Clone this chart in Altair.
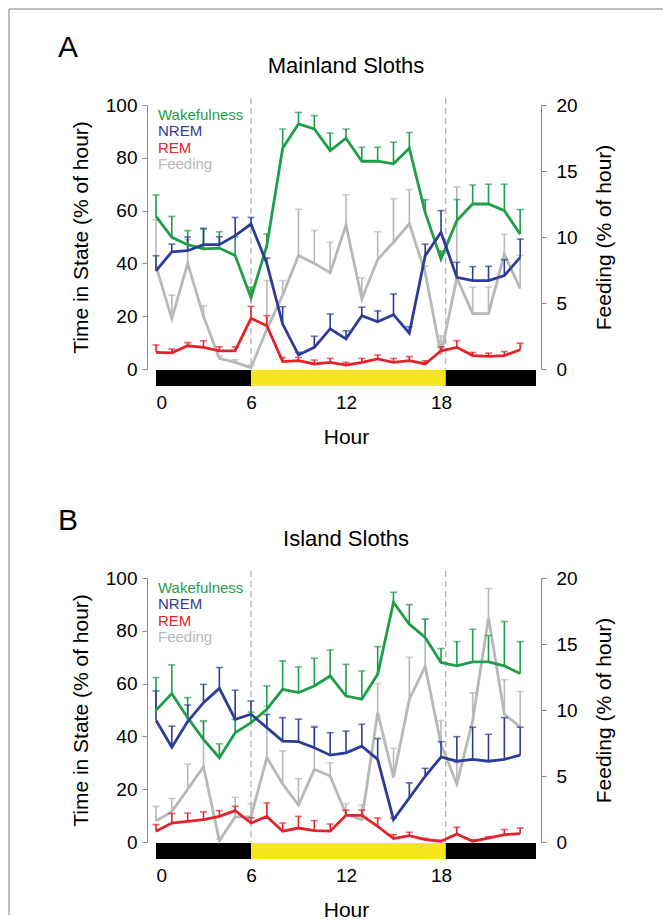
import altair as alt
import pandas as pd

HOURS = list(range(24))

# ---------------- Panel A : Mainland sloths ----------------
A_WAKE = [57.8, 49.9, 47.1, 45.5, 45.8, 43.0, 27.0, 46.7, 83.6, 92.8, 90.9, 82.7,
          87.4, 78.7, 78.7, 77.7, 83.6, 59.3, 41.7, 56.2, 62.5, 62.5, 60.0, 51.1]
A_WAKE_ERR = [8.1, 7.9, 5.3, 7.5, 6.2, 7.0, 4.0, 4.4, 7.3, 4.4, 5.1, 6.7,
              3.5, 5.3, 5.3, 8.2, 6.0, 4.8, 3.0, 8.0, 7.2, 7.5, 10.0, 9.3]
A_NREM = [37.2, 44.4, 44.8, 47.1, 47.1, 50.5, 54.9, 40.0, 17.0, 5.3, 8.2, 15.2,
          11.4, 20.2, 17.9, 20.6, 13.6, 42.9, 51.8, 34.7, 33.5, 33.5, 35.4, 42.3]
A_NREM_ERR = [5.7, 2.9, 5.2, 6.2, 3.0, 6.9, 2.5, 2.0, 6.6, 1.0, 4.2, 5.6,
              3.1, 3.2, 4.1, 7.8, 2.4, 4.4, 8.2, 5.7, 5.3, 5.4, 6.0, 6.9]
A_REM = [6.3, 6.1, 8.8, 8.2, 6.9, 6.9, 19.2, 16.4, 2.8, 3.2, 1.9, 2.5,
         1.5, 2.5, 3.8, 2.5, 3.2, 1.9, 6.9, 8.2, 5.1, 4.8, 5.1, 7.3]
A_REM_ERR = [2.8, 1.5, 1.2, 2.5, 1.5, 1.5, 4.5, 3.8, 1.5, 1.2, 1.5, 1.5,
             1.0, 1.5, 1.5, 1.5, 1.5, 1.2, 1.5, 2.5, 1.2, 1.2, 1.5, 2.5]
A_FEED = [7.8, 3.8, 8.0, 4.0, 0.8, 0.5, 0.1, 3.0, 5.6, 8.6, 8.0, 7.3,
          10.9, 5.3, 8.3, 9.6, 11.0, 7.3, 1.1, 6.9, 4.2, 4.2, 8.7, 6.1]
A_FEED_ERR = [3.5, 1.8, 1.8, 0.8, 0.2, 0.2, 0.2, 3.7, 1.1, 3.5, 2.5, 2.3,
              2.3, 1.6, 2.1, 3.3, 2.6, 0.5, 1.4, 6.9, 2.0, 2.0, 1.5, 2.5]

# ---------------- Panel B : Island sloths ----------------
B_WAKE = [49.9, 56.2, 47.1, 38.9, 31.9, 41.4, 45.2, 50.3, 57.8, 56.6, 59.1, 62.9,
          55.3, 54.1, 63.5, 90.8, 82.5, 77.5, 68.0, 66.7, 68.2, 68.2, 66.7, 63.8]
B_WAKE_ERR = [12.4, 10.9, 7.6, 7.0, 5.3, 5.0, 4.0, 8.8, 10.8, 9.7, 10.5, 9.8,
              12.0, 10.7, 10.5, 3.8, 7.4, 6.9, 5.3, 9.2, 12.4, 10.0, 16.8, 12.1]
B_NREM = [46.1, 35.9, 45.6, 52.8, 58.2, 46.5, 48.4, 43.3, 38.2, 38.0, 35.7, 32.9,
          33.8, 36.3, 31.3, 8.5, 16.7, 24.9, 32.2, 30.6, 31.3, 30.6, 31.3, 32.9]
B_NREM_ERR = [11.1, 8.0, 6.3, 6.9, 7.9, 11.0, 5.0, 5.0, 8.9, 8.5, 7.8, 8.5,
              8.2, 8.3, 7.9, 0.5, 5.7, 3.0, 5.8, 9.3, 12.2, 10.2, 15.8, 10.6]
B_REM = [4.1, 7.2, 7.8, 8.5, 9.7, 11.9, 7.2, 9.7, 4.1, 5.3, 4.3, 4.1,
         10.1, 10.1, 5.9, 1.3, 2.4, 0.9, 0.3, 3.0, 0.3, 1.5, 2.8, 3.2]
B_REM_ERR = [2.5, 3.6, 3.2, 2.9, 2.2, 1.6, 2.0, 5.1, 3.1, 4.4, 3.8, 2.7,
             2.0, 2.0, 3.2, 1.5, 1.3, 0.5, 0.3, 2.6, 0.5, 0.5, 1.9, 2.1]
B_FEED = [1.6, 2.3, 4.0, 5.7, 0.1, 1.9, 1.9, 6.4, 4.4, 2.8, 5.5, 5.0,
          2.1, 1.7, 9.8, 4.9, 10.8, 13.3, 7.4, 4.4, 9.2, 17.0, 9.7, 8.7]
B_FEED_ERR = [1.1, 1.0, 1.9, 3.4, 0.1, 1.5, 1.0, 3.9, 2.5, 2.0, 3.3, 1.0,
              0.8, 1.1, 2.2, 2.2, 3.2, 3.6, 1.8, 1.6, 2.1, 2.2, 2.6, 2.7]

# light / dark bar and dashed transitions
LIGHT_START = [0, 6, 18.3]
LIGHT_END = [6, 18.3, 24]
LIGHT_PHASE = ["dark", "light", "dark"]
TRANSITIONS = [6, 18.3]

LEGEND_LABELS = ["Wakefulness", "NREM", "REM", "Feeding"]
COLORS = ["#1f9e4a", "#2d3c96", "#e3232b", "#b8b8b8"]

FONT = "Liberation Sans"
W, H = 380, 264

x_axis = alt.Axis(values=[0, 6, 12, 18], domain=False, ticks=False, grid=False,
                  labelPadding=24, labelFontSize=19, labelFont=FONT, labelColor="black",
                  title="Hour", titleFontSize=21, titleFont=FONT, titleFontWeight="normal",
                  titlePadding=14, titleColor="black")
x_scale = alt.Scale(domain=[0, 24], nice=False, zero=False)

left_axis = alt.Axis(orient="left", values=[0, 20, 40, 60, 80, 100], offset=9, grid=False,
                     domainColor="#8a8a8a", tickColor="#8a8a8a", tickSize=5,
                     labelFontSize=19, labelFont=FONT, labelColor="black", labelPadding=5,
                     title="Time in State (% of hour)", titleFontSize=21, titleFont=FONT,
                     titleFontWeight="normal", titleColor="black", titlePadding=14)
right_axis = alt.Axis(orient="right", values=[0, 5, 10, 15, 20], offset=5, grid=False,
                      domainColor="#8a8a8a", tickColor="#8a8a8a", tickSize=5,
                      labelFontSize=19, labelFont=FONT, labelColor="black", labelPadding=10,
                      title="Feeding (% of hour)", titleFontSize=21, titleFont=FONT,
                      titleFontWeight="normal", titleColor="black", titlePadding=16,
                      titleAngle=270, titleBaseline="top")

color_scale = alt.Scale(domain=LEGEND_LABELS, range=COLORS)


def panel(letter, title, wake, wake_e, nrem, nrem_e, rem, rem_e, feed, feed_e, with_frame):
    rows = []
    for st, vals, errs in [("Wakefulness", wake, wake_e), ("NREM", nrem, nrem_e), ("REM", rem, rem_e)]:
        for h, v, e in zip(HOURS, vals, errs):
            rows.append({"hour": h, "state": st, "value": v, "top": v + e})
    sleep_df = pd.DataFrame(rows)
    feed_df = pd.DataFrame({"hour": HOURS, "value": feed,
                            "top": [v + e for v, e in zip(feed, feed_e)]})
    light_df = pd.DataFrame({"start": LIGHT_START, "end": LIGHT_END, "phase": LIGHT_PHASE})
    trans_df = pd.DataFrame({"hour": TRANSITIONS})
    legend_df = pd.DataFrame({"label": LEGEND_LABELS, "idx": [0, 1, 2, 3]})
    letter_df = pd.DataFrame({"t": [letter]})
    title_df = pd.DataFrame({"t": [title]})
    one = pd.DataFrame({"k": [0]})

    X = alt.X("hour:Q", scale=x_scale, axis=x_axis)
    ys = alt.Scale(domain=[0, 100], nice=False)
    yf = alt.Scale(domain=[0, 20], nice=False)

    bar = alt.Chart(light_df).mark_rect().encode(
        x=alt.X("start:Q", scale=x_scale, axis=x_axis), x2="end:Q",
        y=alt.value(H + 1), y2=alt.value(H + 17),
        fill=alt.Fill("phase:N", scale=alt.Scale(domain=["dark", "light"],
                                                 range=["#000000", "#f6e61c"]), legend=None))
    dashes = alt.Chart(trans_df).mark_rule(color="#a8a8a8", strokeWidth=1.2,
                                           strokeDash=[6, 4]).encode(
        x=X, y=alt.value(-7), y2=alt.value(H))

    base_f = alt.Chart(feed_df)
    f_line = base_f.mark_line(color=COLORS[3], strokeWidth=2.8).encode(
        x=X, y=alt.Y("value:Q", scale=yf, axis=right_axis))
    f_rule = base_f.mark_rule(color=COLORS[3], strokeWidth=1.6).encode(
        x=X, y=alt.Y("value:Q", scale=yf, axis=right_axis), y2="top:Q")
    f_tick = base_f.mark_tick(color=COLORS[3], orient="horizontal", size=7,
                              thickness=1.6).encode(
        x=X, y=alt.Y("top:Q", scale=yf, axis=right_axis))
    feed_layer = alt.layer(f_rule, f_tick, f_line)

    base_s = alt.Chart(sleep_df)
    C = alt.Color("state:N", scale=color_scale, legend=None)
    s_line = base_s.mark_line(strokeWidth=2.8).encode(
        x=X, y=alt.Y("value:Q", scale=ys, axis=left_axis), color=C, detail="state:N")
    s_rule = base_s.mark_rule(strokeWidth=1.6).encode(
        x=X, y=alt.Y("value:Q", scale=ys, axis=left_axis), y2="top:Q", color=C)
    s_tick = base_s.mark_tick(orient="horizontal", size=7, thickness=1.6).encode(
        x=X, y=alt.Y("top:Q", scale=ys, axis=left_axis), color=C)
    sleep_layer = alt.layer(s_rule, s_tick, s_line)

    legend = alt.Chart(legend_df).mark_text(align="left", baseline="middle", fontSize=15,
                                            font=FONT).encode(
        x=alt.value(2),
        y=alt.Y("idx:Q", scale=alt.Scale(domain=[0, 3], range=[10, 59]), axis=None),
        text="label:N",
        color=alt.Color("label:N", scale=color_scale, legend=None))

    let = alt.Chart(letter_df).mark_text(align="left", baseline="middle", fontSize=30,
                                         font=FONT, color="black").encode(
        x=alt.value(-98), y=alt.value(-57), text="t:N")
    ttl = alt.Chart(title_df).mark_text(align="center", baseline="middle", fontSize=22,
                                        font=FONT, color="black").encode(
        x=alt.value(W / 2), y=alt.value(-39), text="t:N")

    layers = [bar, dashes, feed_layer, sleep_layer, legend, let, ttl]
    if with_frame:
        # figure frame (decorative border of the whole figure)
        left_line = alt.Chart(one).mark_rule(color="#7a7a7a", strokeWidth=1).encode(
            x=alt.value(-147), y=alt.value(-96), y2=alt.value(810))
        top_line = alt.Chart(one).mark_rule(color="#7a7a7a", strokeWidth=1).encode(
            x=alt.value(-147), x2=alt.value(507), y=alt.value(-96))
        layers = [left_line, top_line] + layers

    return alt.layer(*layers).resolve_scale(y="independent").properties(width=W, height=H)


pA = panel("A", "Mainland Sloths", A_WAKE, A_WAKE_ERR, A_NREM, A_NREM_ERR,
           A_REM, A_REM_ERR, A_FEED, A_FEED_ERR, True)
pB = panel("B", "Island Sloths", B_WAKE, B_WAKE_ERR, B_NREM, B_NREM_ERR,
           B_REM, B_REM_ERR, B_FEED, B_FEED_ERR, False)

chart = alt.vconcat(pA, pB, spacing=209, bounds="flush").properties(
    padding={"left": 0, "top": 0, "right": 0, "bottom": 0},
    background="white"
).configure_view(stroke=None)

chart.save("out.html", embed_options={"renderer": "svg", "actions": False})
